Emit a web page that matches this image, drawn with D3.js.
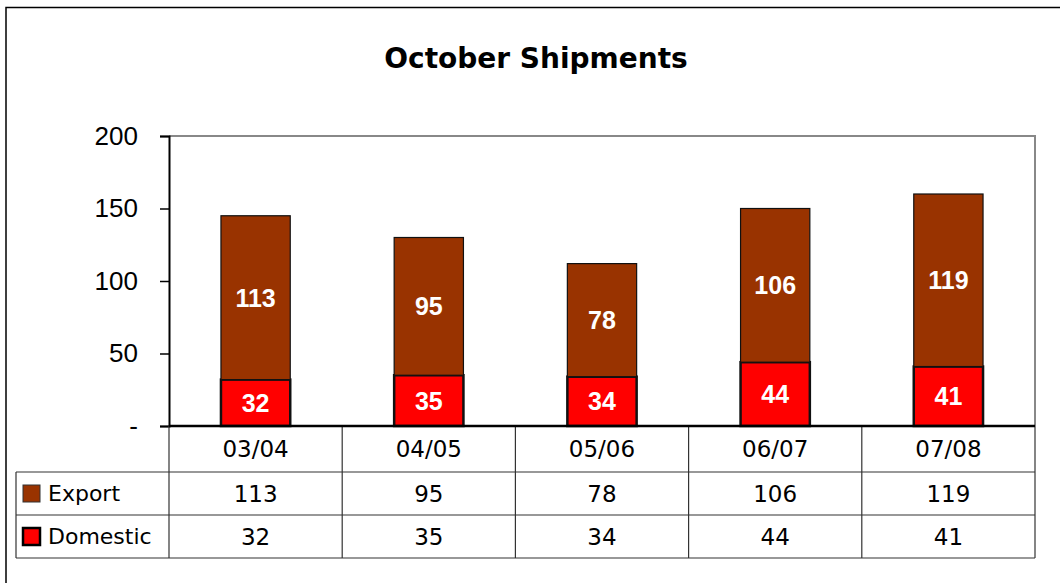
<!DOCTYPE html>
<html>
<head>
<meta charset="utf-8">
<script src="https://cdn.jsdelivr.net/npm/d3@7"></script>
<style>
  body { margin: 0; background: #fff; }
  svg { display: block; }
</style>
</head>
<body>
<div id="chart"></div>
<script>
var categories = ["03/04", "04/05", "05/06", "06/07", "07/08"];
var exportVals = [113, 95, 78, 106, 119];
var domesticVals = [32, 35, 34, 44, 41];
var yTicks = [0, 50, 100, 150, 200];
var seriesNames = ["Domestic", "Export"];
var seriesColors = {Domestic: "#ff0000", Export: "#993300"};

var W = 1060, H = 583;
var plot = {left: 169, right: 1035, top: 136, bottom: 426};
var tableLeft = 16, rowH = [46, 43, 43];

var svg = d3.select("#chart").append("svg")
    .attr("width", W).attr("height", H);

// outer chart frame (runs off the picture to the right / bottom)
svg.append("rect")
    .attr("x", 6).attr("y", 7.5)
    .attr("width", W).attr("height", H)
    .style("fill", "none").style("stroke", "#000").style("stroke-width", 1.5);

svg.append("text")
    .attr("x", 536).attr("y", 58)
    .attr("text-anchor", "middle").attr("dominant-baseline", "central")
    .style("font-family", "'DejaVu Sans', sans-serif")
    .style("font-weight", "bold").style("font-size", "28px")
    .text("October Shipments");

var x = d3.scaleBand().domain(categories).range([plot.left, plot.right]);
var y = d3.scaleLinear().domain([0, 200]).range([plot.bottom, plot.top]);

// plot area border, grey on top and right
svg.append("path")
    .attr("d", "M" + plot.left + "," + plot.top + "H" + plot.right + "V" + plot.bottom)
    .style("fill", "none").style("stroke", "#888").style("stroke-width", 2);

var rows = categories.map(function(c, i) {
    return {cat: c, Domestic: domesticVals[i], Export: exportVals[i]};
});
var stacked = d3.stack().keys(seriesNames)(rows);
var barW = x.bandwidth() * 0.4;

var layers = svg.selectAll("g.layer").data(stacked).enter().append("g")
    .attr("class", "layer");

layers.selectAll("rect").data(function(d) { return d.map(function(p) { return {key: d.key, p: p}; }); })
    .enter().append("rect")
    .attr("x", function(d) { return x(d.p.data.cat) + (x.bandwidth() - barW) / 2; })
    .attr("y", function(d) { return y(d.p[1]); })
    .attr("width", barW)
    .attr("height", function(d) { return y(d.p[0]) - y(d.p[1]); })
    .style("fill", function(d) { return seriesColors[d.key]; })
    .style("stroke", "#111")
    .style("stroke-width", function(d) { return d.key == "Domestic" ? 2.5 : 1.2; });

layers.selectAll("text").data(function(d) { return d.map(function(p) { return {key: d.key, p: p}; }); })
    .enter().append("text")
    .attr("x", function(d) { return x(d.p.data.cat) + x.bandwidth() / 2; })
    .attr("y", function(d) { return y((d.p[0] + d.p[1]) / 2); })
    .attr("text-anchor", "middle").attr("dominant-baseline", "central")
    .style("font-family", "'Liberation Sans', Arial, sans-serif")
    .style("font-weight", "bold").style("font-size", "25px")
    .style("fill", "#fff")
    .text(function(d) { return d.p.data[d.key]; });

// y axis
var yAxis = svg.append("g")
    .attr("transform", "translate(" + plot.left + ",0)")
    .call(d3.axisLeft(y).tickValues(yTicks).tickSize(9).tickPadding(22)
        .tickFormat(function(d) { return d === 0 ? "-" : d; }));
yAxis.select(".domain").style("stroke", "#000").style("stroke-width", 2);
yAxis.selectAll(".tick line").style("stroke", "#000").style("stroke-width", 1.5);
yAxis.selectAll(".tick text")
    .style("font-family", "'Liberation Sans', Arial, sans-serif")
    .style("font-size", "26px").style("fill", "#000");

// data table under the plot
var tableFont = "'DejaVu Sans', sans-serif";
var rowTops = [plot.bottom, plot.bottom + rowH[0], plot.bottom + rowH[0] + rowH[1]];
var tableBottom = rowTops[2] + rowH[2];
var tbl = svg.append("g");

// vertical column lines
tbl.selectAll("line.col").data(categories.concat(["end"])).enter().append("line")
    .attr("x1", function(d, i) { return i < categories.length ? x(d) : plot.right; })
    .attr("x2", function(d, i) { return i < categories.length ? x(d) : plot.right; })
    .attr("y1", plot.bottom).attr("y2", tableBottom)
    .style("stroke", "#333").style("stroke-width", 1.2);
tbl.append("line")
    .attr("x1", tableLeft).attr("x2", tableLeft)
    .attr("y1", rowTops[1]).attr("y2", tableBottom)
    .style("stroke", "#333").style("stroke-width", 1.2);
tbl.selectAll("line.row").data([rowTops[1], rowTops[2], tableBottom]).enter().append("line")
    .attr("x1", tableLeft).attr("x2", plot.right)
    .attr("y1", function(d) { return d; }).attr("y2", function(d) { return d; })
    .style("stroke", "#333").style("stroke-width", 1.2);

// x axis line over the top of the table
svg.append("line")
    .attr("x1", plot.left).attr("x2", plot.right)
    .attr("y1", plot.bottom).attr("y2", plot.bottom)
    .style("stroke", "#000").style("stroke-width", 2.5);

tbl.selectAll("text.cat").data(categories).enter().append("text")
    .attr("x", function(d) { return x(d) + x.bandwidth() / 2; })
    .attr("y", rowTops[0] + rowH[0] / 2)
    .attr("text-anchor", "middle").attr("dominant-baseline", "central")
    .style("font-family", tableFont).style("font-size", "23px")
    .text(function(d) { return d; });

var tableRows = [
    {name: "Export", vals: exportVals, top: rowTops[1], h: rowH[1]},
    {name: "Domestic", vals: domesticVals, top: rowTops[2], h: rowH[2]}
];
tableRows.forEach(function(r) {
    tbl.selectAll(null).data(r.vals).enter().append("text")
        .attr("x", function(d, i) { return x(categories[i]) + x.bandwidth() / 2; })
        .attr("y", r.top + r.h / 2)
        .attr("text-anchor", "middle").attr("dominant-baseline", "central")
        .style("font-family", tableFont).style("font-size", "23px")
        .text(function(d) { return d; });
    tbl.append("rect")
        .attr("x", 23).attr("y", r.top + r.h / 2 - 8.5)
        .attr("width", 17).attr("height", 17)
        .style("fill", seriesColors[r.name])
        .style("stroke", r.name == "Domestic" ? "#000" : "#333")
        .style("stroke-width", r.name == "Domestic" ? 2.5 : 1);
    tbl.append("text")
        .attr("x", 48).attr("y", r.top + r.h / 2)
        .attr("dominant-baseline", "central")
        .style("font-family", tableFont).style("font-size", "22px")
        .text(r.name);
});
</script>
</body>
</html>
